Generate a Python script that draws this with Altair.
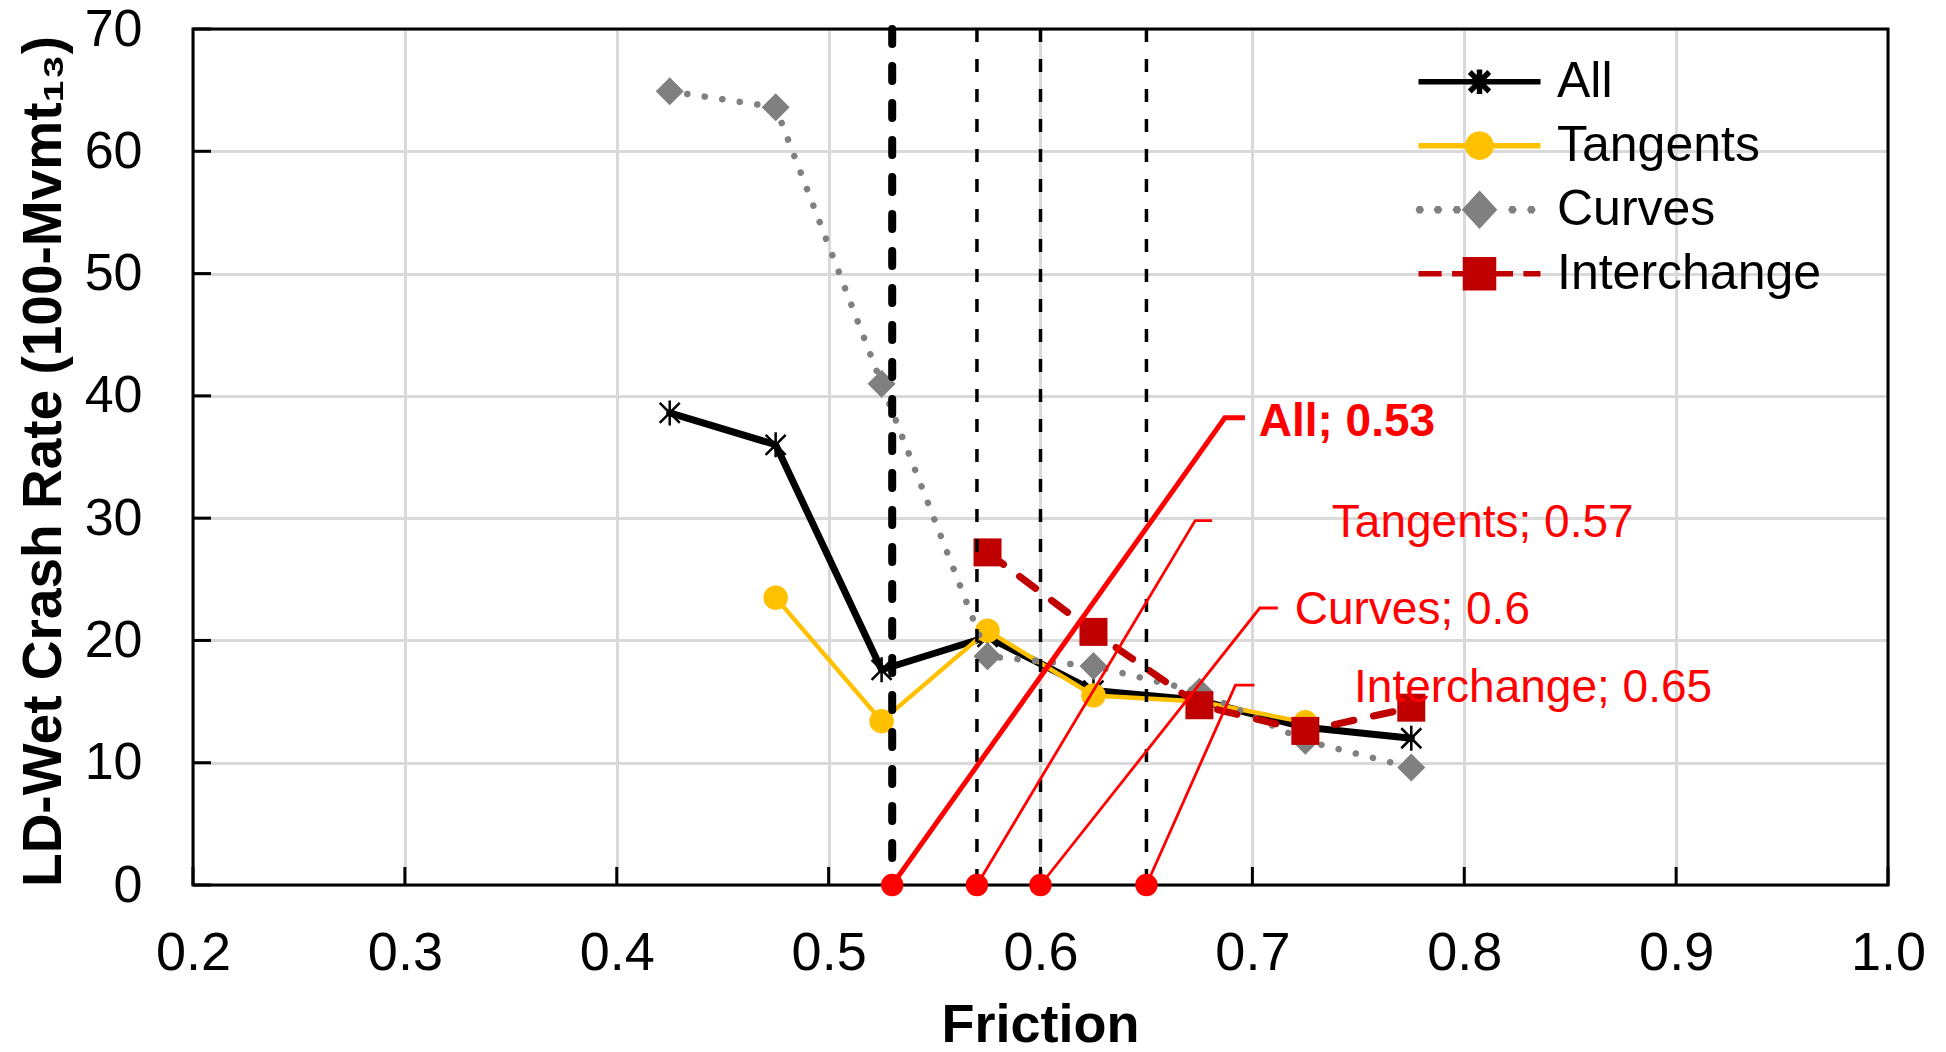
import math
import altair as alt
import pandas as pd

# ---------------- data ----------------
friction = [0.425, 0.475, 0.525, 0.575, 0.625, 0.675, 0.725, 0.775]
rate_all = [38.6, 36.0, 17.6, 20.3, 15.9, 15.1, 12.9, 12.0]
rate_tangents = [None, 23.5, 13.4, 20.8, 15.5, 15.0, 13.3, None]
rate_curves = [64.9, 63.6, 41.0, 18.7, 17.9, 15.8, 11.8, 9.6]
rate_interchange = [None, None, None, 27.2, 20.7, 14.7, 12.6, 14.5]
series_names = ["All", "Tangents", "Curves", "Interchange"]

thresholds = [0.53, 0.57, 0.60, 0.65]
threshold_labels = ["All; 0.53", "Tangents; 0.57", "Curves; 0.6", "Interchange; 0.65"]
callout_elbow_x = [0.687, 0.673, 0.7035, 0.692]
callout_elbow_y = [38.2, 29.8, 22.65, 16.35]
callout_end_x = [0.6965, 0.681, 0.712, 0.701]
label_x = [0.703, 0.7375, 0.720, 0.748]
label_y = [37.9, 29.6, 22.5, 16.1]

x_ticks = [0.2, 0.3, 0.4, 0.5, 0.6, 0.7, 0.8, 0.9, 1.0]
y_ticks = [0, 10, 20, 30, 40, 50, 60, 70]

# ---------------- tables ----------------
rows = []
for name, vals in zip(series_names, [rate_all, rate_tangents, rate_curves, rate_interchange]):
    for f, v in zip(friction, vals):
        if v is not None:
            rows.append({"series": name, "friction": f, "rate": v})
df = pd.DataFrame(rows)

thr_df = pd.DataFrame({"name": series_names, "threshold": thresholds, "zero": [0] * 4,
                       "label": threshold_labels, "lx": label_x, "ly": label_y})
call_rows = []
for i, name in enumerate(series_names):
    call_rows.append({"name": name, "o": 0, "x": thresholds[i], "y": 0})
    call_rows.append({"name": name, "o": 1, "x": callout_elbow_x[i], "y": callout_elbow_y[i]})
    call_rows.append({"name": name, "o": 2, "x": callout_end_x[i], "y": callout_elbow_y[i]})
call_df = pd.DataFrame(call_rows)
xt_df = pd.DataFrame({"t": x_ticks})
yt_df = pd.DataFrame({"t": y_ticks})

# ---------------- styles ----------------
FONT = "Liberation Sans, Arial, DejaVu Sans, sans-serif"
W, H = 1695, 856
colors = {"All": "#000000", "Tangents": "#FFC000", "Curves": "#808080", "Interchange": "#C00000"}

xscale = alt.Scale(domain=[0.2, 1.0], nice=False, zero=False)
yscale = alt.Scale(domain=[0, 70], nice=False, zero=True)

x_axis = alt.Axis(values=x_ticks, format=".1f", labelFont=FONT, labelFontSize=54, labelColor="black",
                  labelPadding=41, labelFlush=False, labelOverlap=False, grid=True, gridColor="#d9d9d9",
                  gridWidth=3, domain=False, ticks=False, title="Friction", titleFont=FONT,
                  titleFontSize=54, titleFontWeight="bold", titleColor="black", titleX=847, titleY=140,
                  titleBaseline="middle", titleAlign="center")
y_axis = alt.Axis(values=y_ticks, format="d", labelFont=FONT, labelFontSize=52, labelColor="black",
                  labelPadding=51, labelFlush=False, labelOverlap=False, grid=True, gridColor="#d9d9d9",
                  gridWidth=3, domain=False, ticks=False, title="LD-Wet Crash Rate (100-Mvmt\u2081\u2083)",
                  titleFont=FONT, titleFontSize=55, titleFontWeight="bold", titleColor="black",
                  titleX=-150, titleY=432, titleBaseline="middle", titleAlign="center")


def poly(cx, r, n):
    pts = [f"{cx + r * math.cos(2 * math.pi * k / n):.4f},{r * math.sin(2 * math.pi * k / n):.4f}"
           for k in range(n)]
    return "M" + "L".join(pts) + "Z"


legend_paths = [
    "M-1,0L1,0M-0.16,-0.16L0.16,0.16M-0.16,0.16L0.16,-0.16M0,-0.2L0,0.2",
    "M-1,0L1,0" + poly(0, 0.19, 20),
    "".join(poly(c, 0.02, 6) for c in [-0.98, -0.68, -0.37, 0.54, 0.85]) + "M0,-0.25L0.23,0L0,0.25L-0.23,0Z",
    "M-1,0L-0.62,0M-0.45,0L-0.2,0M0.2,0L0.55,0M0.72,0L1,0M-0.23,-0.23L0.23,-0.23L0.23,0.23L-0.23,0.23Z",
]
asterisk = "M-0.8,-0.8L0.8,0.8M-0.8,0.8L0.8,-0.8M0,-1L0,1"

# ---------------- layers ----------------
frame = alt.Chart(alt.Data(values=[{}])).mark_rect(fill="transparent", stroke="black", strokeWidth=3).encode(
    x=alt.value(0), x2=alt.value(W), y=alt.value(0), y2=alt.value(H))

xt = alt.Chart(xt_df).mark_rule(color="black", strokeWidth=3).encode(
    x=alt.X("t:Q", scale=xscale), y=alt.value(H), y2=alt.value(H - 18))
yt = alt.Chart(yt_df).mark_rule(color="black", strokeWidth=3).encode(
    y=alt.Y("t:Q", scale=yscale), x=alt.value(0), x2=alt.value(18))

line_styles = {
    "All": dict(strokeWidth=7),
    "Tangents": dict(strokeWidth=4.5),
    "Curves": dict(strokeWidth=6.5, strokeDash=[0.1, 17.6]),
    "Interchange": dict(strokeWidth=7, strokeDash=[20, 20]),
}
point_styles = {
    "All": dict(shape=asterisk, size=625, filled=False, strokeWidth=2.5),
    "Tangents": dict(shape="circle", size=600, filled=True),
    "Curves": dict(shape="diamond", size=784, filled=True),
    "Interchange": dict(shape="square", size=784, filled=True),
}

series_layers = []
for i, name in enumerate(series_names):
    base = alt.Chart(df).transform_filter(alt.datum.series == name)
    if i == 0:
        enc = dict(x=alt.X("friction:Q", scale=xscale, axis=x_axis),
                   y=alt.Y("rate:Q", scale=yscale, axis=y_axis))
    else:
        enc = dict(x=alt.X("friction:Q", scale=xscale), y=alt.Y("rate:Q", scale=yscale))
    ln = base.mark_line(color=colors[name], strokeCap="round", strokeJoin="round",
                        **line_styles[name]).encode(**enc)
    pt = base.mark_point(color=colors[name], opacity=1, **point_styles[name]).encode(
        x=alt.X("friction:Q", scale=xscale), y=alt.Y("rate:Q", scale=yscale))
    series_layers += [ln, pt]

thick_rule = alt.Chart(thr_df).transform_filter(alt.datum.name == "All").mark_rule(
    color="black", strokeWidth=8, strokeDash=[15, 22], strokeCap="round").encode(
    x=alt.X("threshold:Q", scale=xscale))
thin_rule = alt.Chart(thr_df).transform_filter(alt.datum.name != "All").mark_rule(
    color="black", strokeWidth=3.5, strokeDash=[13, 17]).encode(
    x=alt.X("threshold:Q", scale=xscale))

call_thick = alt.Chart(call_df).transform_filter(alt.datum.name == "All").mark_line(
    color="#FF0000", strokeWidth=5).encode(
    x=alt.X("x:Q", scale=xscale), y=alt.Y("y:Q", scale=yscale), order="o:Q", detail="name:N")
call_thin = alt.Chart(call_df).transform_filter(alt.datum.name != "All").mark_line(
    color="#FF0000", strokeWidth=2.8).encode(
    x=alt.X("x:Q", scale=xscale), y=alt.Y("y:Q", scale=yscale), order="o:Q", detail="name:N")
thr_dots = alt.Chart(thr_df).mark_point(shape="circle", filled=True, color="#FF0000", opacity=1,
                                        size=500).encode(
    x=alt.X("threshold:Q", scale=xscale), y=alt.Y("zero:Q", scale=yscale))

lab_bold = alt.Chart(thr_df).transform_filter(alt.datum.name == "All").mark_text(
    align="left", baseline="middle", color="#FF0000", font=FONT, fontSize=46, fontWeight="bold").encode(
    x=alt.X("lx:Q", scale=xscale), y=alt.Y("ly:Q", scale=yscale), text="label:N")
lab_norm = alt.Chart(thr_df).transform_filter(alt.datum.name != "All").mark_text(
    align="left", baseline="middle", color="#FF0000", font=FONT, fontSize=46).encode(
    x=alt.X("lx:Q", scale=xscale), y=alt.Y("ly:Q", scale=yscale), text="label:N")

leg = dict(orient="none", legendX=1222.5, legendY=20.7, direction="vertical", title=None,
           labelFont=FONT, labelFontSize=50, labelColor="black", labelLimit=400, labelOffset=13.5,
           symbolStrokeWidth=5.5, symbolSize=14884, symbolOpacity=1, clipHeight=64, rowPadding=0, padding=0)
legend_layer = alt.Chart(df).transform_filter("false").mark_point(
    filled=True, opacity=1, size=14884, strokeWidth=5.5).encode(
    fill=alt.Fill("series:N", scale=alt.Scale(domain=series_names, range=[colors[n] for n in series_names]),
                  legend=alt.Legend(**leg)),
    stroke=alt.Stroke("series:N", scale=alt.Scale(domain=series_names, range=[colors[n] for n in series_names]),
                      legend=alt.Legend(**leg)),
    shape=alt.Shape("series:N", scale=alt.Scale(domain=series_names, range=legend_paths),
                    legend=alt.Legend(**leg)),
)

chart = alt.layer(
    frame, xt, yt, *series_layers, thick_rule, thin_rule, call_thick, call_thin, thr_dots,
    lab_bold, lab_norm, legend_layer
).properties(
    width=W, height=H,
    autosize=alt.AutoSizeParams(type="none"),
    padding={"left": 193, "top": 29, "right": 58, "bottom": 167},
    background="white",
).configure_view(strokeWidth=0)

chart.save("out.html", embed_options={"renderer": "svg", "actions": False})
